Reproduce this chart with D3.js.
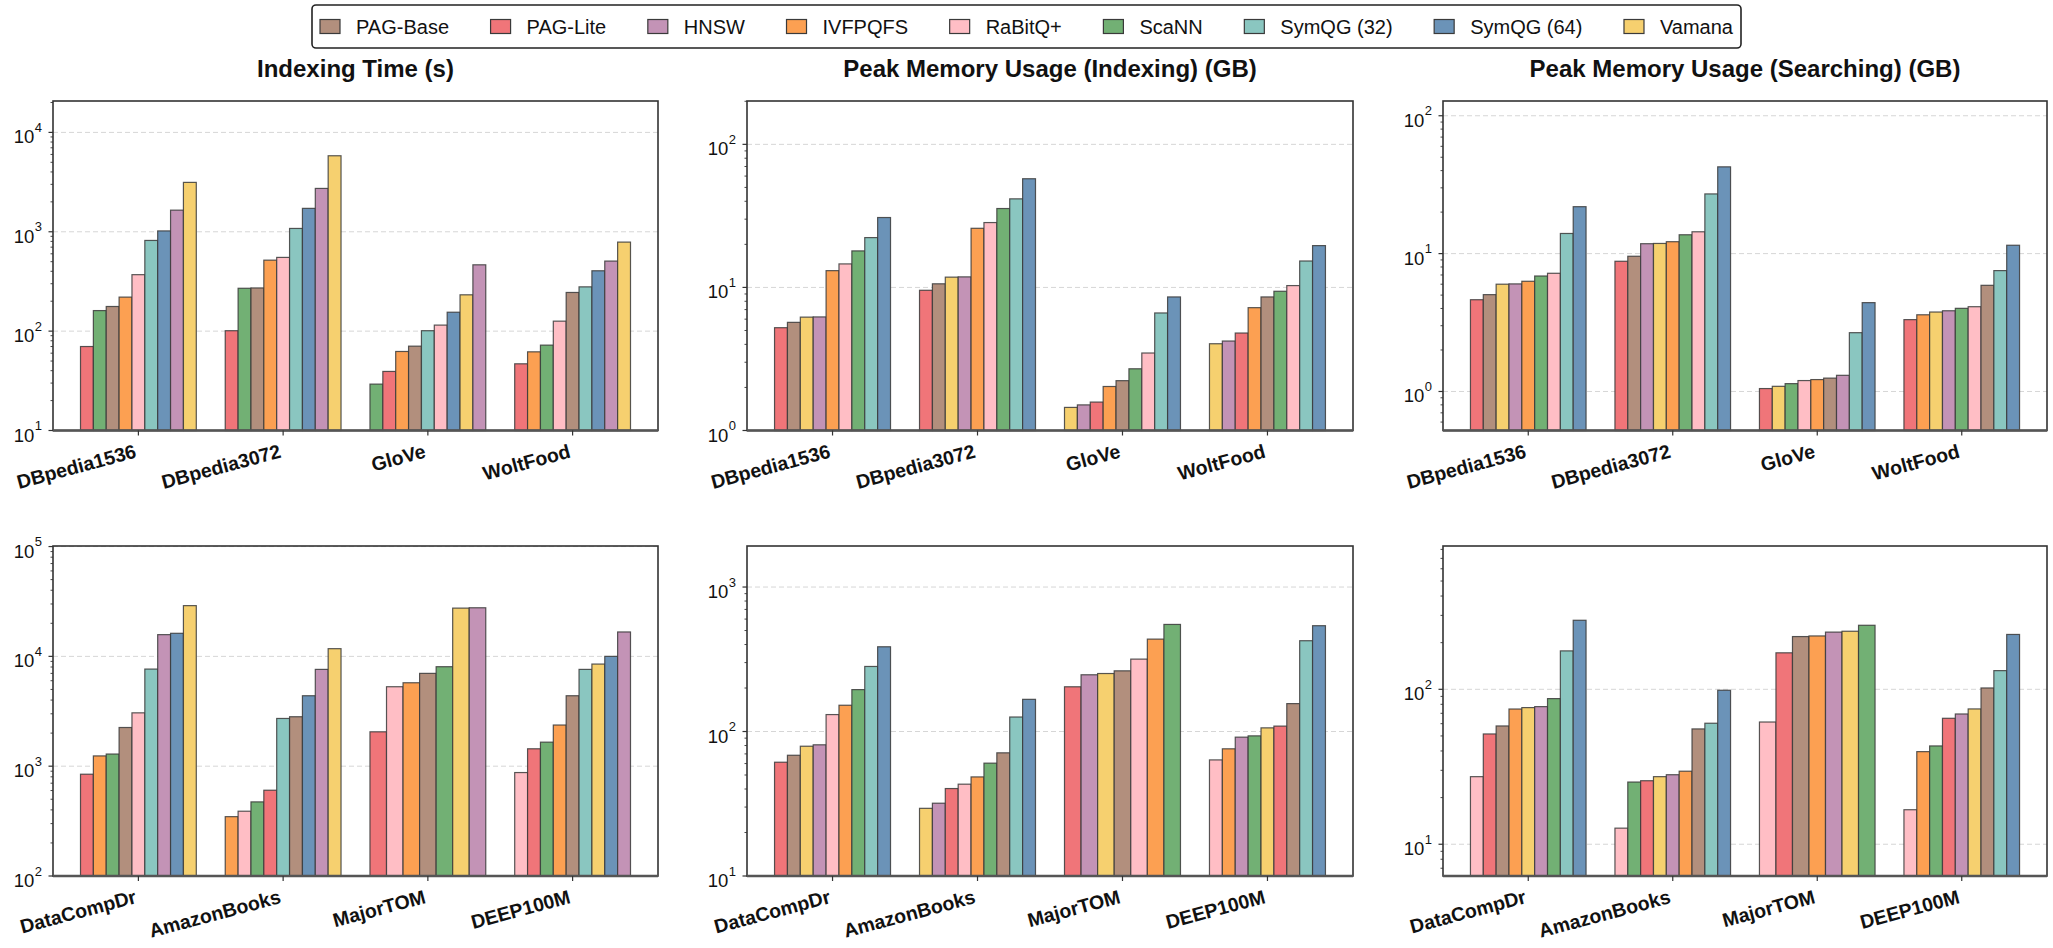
<!DOCTYPE html>
<html>
<head>
<meta charset="utf-8">
<script src="https://cdn.jsdelivr.net/npm/d3@7"></script>
<style>
  body { margin: 0; background: #fff; }
  svg { display: block; }
  text { font-family: "Liberation Sans", Arial, Helvetica, sans-serif; fill: #111; }
</style>
</head>
<body>
<svg id="chart" width="2053" height="948"></svg>
<script>
// Methods in legend order, with their bar colours
const methods = ["PAG-Base", "PAG-Lite", "HNSW", "IVFPQFS", "RaBitQ+", "ScaNN", "SymQG (32)", "SymQG (64)", "Vamana"];
const methodColors = ["#b28f7d", "#f07579", "#c393b6", "#fca052", "#ffbec5", "#72b074", "#8ac6c0", "#6b93b8", "#f6d06f"];

const datasetsTop = ["DBpedia1536", "DBpedia3072", "GloVe", "WoltFood"];
const datasetsBottom = ["DataCompDr", "AmazonBooks", "MajorTOM", "DEEP100M"];

const panelTitles = ["Indexing Time (s)", "Peak Memory Usage (Indexing) (GB)", "Peak Memory Usage (Searching) (GB)"];

// Each row: one dataset; values follow the method order above (null = not run)
const indexTimeTop = [
  [177, 70, 1650, 220, 370, 161, 818, 1020, 3140],
  [272, 101, 2730, 518, 552, 270, 1080, 1720, 5820],
  [70.6, 39.3, 465, 62.4, 115, 29.3, 101, 155, 232],
  [245, 46.9, 507, 61.9, 126, 72.3, 279, 405, 787]
];
const memIndexTop = [
  [5.7, 5.23, 6.22, 13.1, 14.6, 18.0, 22.3, 30.8, 6.2],
  [10.6, 9.55, 11.85, 25.9, 28.4, 35.6, 41.6, 57.5, 11.8],
  [2.23, 1.58, 1.51, 2.03, 3.48, 2.7, 6.63, 8.58, 1.45],
  [8.58, 4.8, 4.22, 7.22, 10.3, 9.4, 15.3, 19.6, 4.04]
];
const memSearchTop = [
  [5.04, 4.63, 6.03, 6.3, 7.2, 6.88, 14.0, 21.9, 6.0],
  [9.57, 8.8, 11.8, 12.2, 14.4, 13.7, 27.1, 42.6, 11.85],
  [1.25, 1.05, 1.31, 1.22, 1.2, 1.14, 2.67, 4.41, 1.09],
  [5.89, 3.32, 3.85, 3.6, 4.12, 4.01, 7.53, 11.5, 3.77]
];
const indexTimeBottom = [
  [2250, 845, 15770, 1240, 3060, 1290, 7660, 16220, 28970],
  [2820, 604, 7610, 347, 389, 473, 2720, 4380, 11750],
  [7000, 2056, 27700, 5750, 5290, 8050, null, null, 27500],
  [4380, 1440, 16680, 2370, 875, 1655, 7610, 10000, 8510]
];
const memIndexBottom = [
  [68.5, 61.3, 80.9, 152, 131, 195, 282, 386, 79.1],
  [71.2, 40.3, 31.9, 48.5, 43.2, 60.4, 126, 167, 29.4],
  [263, 204, 247, 436, 317, 551, null, null, 252],
  [156, 109, 91.4, 75.9, 63.6, 93.3, 425, 540, 106]
];
const memSearchBottom = [
  [58.0, 51.5, 77.3, 74.6, 27.3, 87.1, 177, 279, 76.2],
  [55.5, 25.7, 28.1, 29.6, 12.7, 25.2, 60.4, 98.6, 27.3],
  [219, 172, 234, 221, 61.5, 259, null, null, 237],
  [102, 65.0, 69.3, 39.6, 16.7, 43.1, 132, 226, 74.7]
];

// Log-axis ranges (powers of ten at bottom/top of each plot) and major tick exponents
const yRangeExp = [[1, 4.316], [0, 2.303], [-0.283, 2.107], [2, 5.005], [1, 3.284], [0.795, 2.925]];
const yMajorExp = [[1, 2, 3, 4], [0, 1, 2], [0, 1, 2], [2, 3, 4, 5], [1, 2, 3], [1, 2]];

const svg = d3.select("#chart");

const colX = [[53, 658], [747, 1353], [1443, 2047]];
const rowY = [[101, 430.5], [546, 876]];

const panels = [
  { values: indexTimeTop, cats: datasetsTop, col: 0, row: 0, title: panelTitles[0] },
  { values: memIndexTop, cats: datasetsTop, col: 1, row: 0, title: panelTitles[1] },
  { values: memSearchTop, cats: datasetsTop, col: 2, row: 0, title: panelTitles[2] },
  { values: indexTimeBottom, cats: datasetsBottom, col: 0, row: 1 },
  { values: memIndexBottom, cats: datasetsBottom, col: 1, row: 1 },
  { values: memSearchBottom, cats: datasetsBottom, col: 2, row: 1 }
];

function drawPanel(p, idx) {
  const [x0, x1] = colX[p.col];
  const [y0, y1] = rowY[p.row];
  const g = svg.append("g");
  const x = d3.scaleLinear().domain([-0.59, 3.59]).range([x0, x1]);
  const y = d3.scaleLog()
    .domain([Math.pow(10, yRangeExp[idx][0]), Math.pow(10, yRangeExp[idx][1])])
    .range([y1, y0]);

  // dashed grid at decades
  yMajorExp[idx].forEach(e => {
    const yy = y(Math.pow(10, e));
    g.append("line").attr("x1", x0).attr("x2", x1).attr("y1", yy).attr("y2", yy)
      .attr("stroke", "#d6d6d6").attr("stroke-width", 1).attr("stroke-dasharray", "5,3");
  });

  // bars, sorted ascending inside each dataset group
  p.cats.forEach((cat, i) => {
    const items = methods.map((m, j) => ({ j, v: p.values[i][j] }))
      .filter(d => d.v != null)
      .sort((a, b) => a.v - b.v);
    const bw = 0.8 / items.length;
    items.forEach((d, k) => {
      const xl = x(i - 0.4 + k * bw), xr = x(i - 0.4 + (k + 1) * bw);
      const yt = y(d.v);
      g.append("rect")
        .attr("x", xl).attr("y", yt)
        .attr("width", xr - xl).attr("height", y1 - yt)
        .attr("fill", methodColors[d.j])
        .attr("stroke", "#3a3a3a").attr("stroke-opacity", 0.85).attr("stroke-width", 1.2);
    });
  });

  // frame
  g.append("rect").attr("x", x0).attr("y", y0).attr("width", x1 - x0).attr("height", y1 - y0)
    .attr("fill", "none").attr("stroke", "#333").attr("stroke-width", 1.6);
  g.append("line").attr("x1", x0).attr("x2", x1).attr("y1", y1).attr("y2", y1)
    .attr("stroke", "#555").attr("stroke-width", 2.4);

  // minor ticks on the log axis
  const lo = yRangeExp[idx][0], hi = yRangeExp[idx][1];
  for (let e = Math.floor(lo); e <= Math.ceil(hi); e++) {
    for (let m = 2; m <= 9; m++) {
      const v = m * Math.pow(10, e);
      const lv = Math.log10(v);
      if (lv < lo || lv > hi) continue;
      const yy = y(v);
      g.append("line").attr("x1", x0 - 2.5).attr("x2", x0).attr("y1", yy).attr("y2", yy)
        .attr("stroke", "#333").attr("stroke-width", 0.9);
    }
  }
  // major ticks + labels
  yMajorExp[idx].forEach(e => {
    const yy = y(Math.pow(10, e));
    g.append("line").attr("x1", x0 - 4.5).attr("x2", x0).attr("y1", yy).attr("y2", yy)
      .attr("stroke", "#333").attr("stroke-width", 1.2);
    const sup = g.append("text").attr("x", x0 - 11).attr("y", yy - 0.5)
      .attr("text-anchor", "end").attr("font-size", 13).text(String(e));
    const sw = sup.node().getComputedTextLength();
    g.append("text").attr("x", x0 - 11 - sw - 0.5).attr("y", yy + 11)
      .attr("text-anchor", "end").attr("font-size", 18.5).text("10");
  });

  // category ticks and rotated labels
  const fs = 19.5, h = fs * 1.15, desc = fs * 0.21;
  const cos = Math.cos(15 * Math.PI / 180);
  p.cats.forEach((cat, i) => {
    const tx = x(i);
    g.append("line").attr("x1", tx).attr("x2", tx).attr("y1", y1).attr("y2", y1 + 5)
      .attr("stroke", "#333").attr("stroke-width", 1.2);
    g.append("text")
      .attr("transform", `translate(${tx},${y1 + 9 + h * cos}) rotate(-15)`)
      .attr("x", 0).attr("y", -desc)
      .attr("text-anchor", "end").attr("font-size", fs).attr("font-weight", "bold")
      .text(cat);
  });

  if (p.title) {
    g.append("text").attr("x", (x0 + x1) / 2).attr("y", 77)
      .attr("text-anchor", "middle").attr("font-size", 24).attr("font-weight", "bold")
      .text(p.title);
  }
}

panels.forEach(drawPanel);

// legend across the top
(function drawLegend() {
  const bx0 = 312, bx1 = 1741, by0 = 5, by1 = 48;
  const lg = svg.append("g");
  lg.append("rect").attr("x", bx0).attr("y", by0).attr("width", bx1 - bx0).attr("height", by1 - by0)
    .attr("rx", 4).attr("fill", "#fff").attr("stroke", "#222").attr("stroke-width", 1.6);
  const fs = 20, pw = 20, ph = 14, pad = 16;
  const cy = (by0 + by1) / 2;
  const items = methods.map((m, j) => {
    const t = lg.append("text").attr("font-size", fs).attr("y", cy + 7).text(m);
    return { t, w: t.node().getComputedTextLength(), j };
  });
  const content = d3.sum(items, d => pw + pad + d.w);
  const gap = (bx1 - bx0 - 16 - content) / (items.length - 1);
  let cx = bx0 + 8;
  items.forEach(d => {
    lg.append("rect").attr("x", cx).attr("y", cy - ph / 2).attr("width", pw).attr("height", ph)
      .attr("fill", methodColors[d.j]).attr("stroke", "#3a3a3a").attr("stroke-width", 1.2);
    d.t.attr("x", cx + pw + pad);
    cx += pw + pad + d.w + gap;
  });
})();
</script>
</body>
</html>
